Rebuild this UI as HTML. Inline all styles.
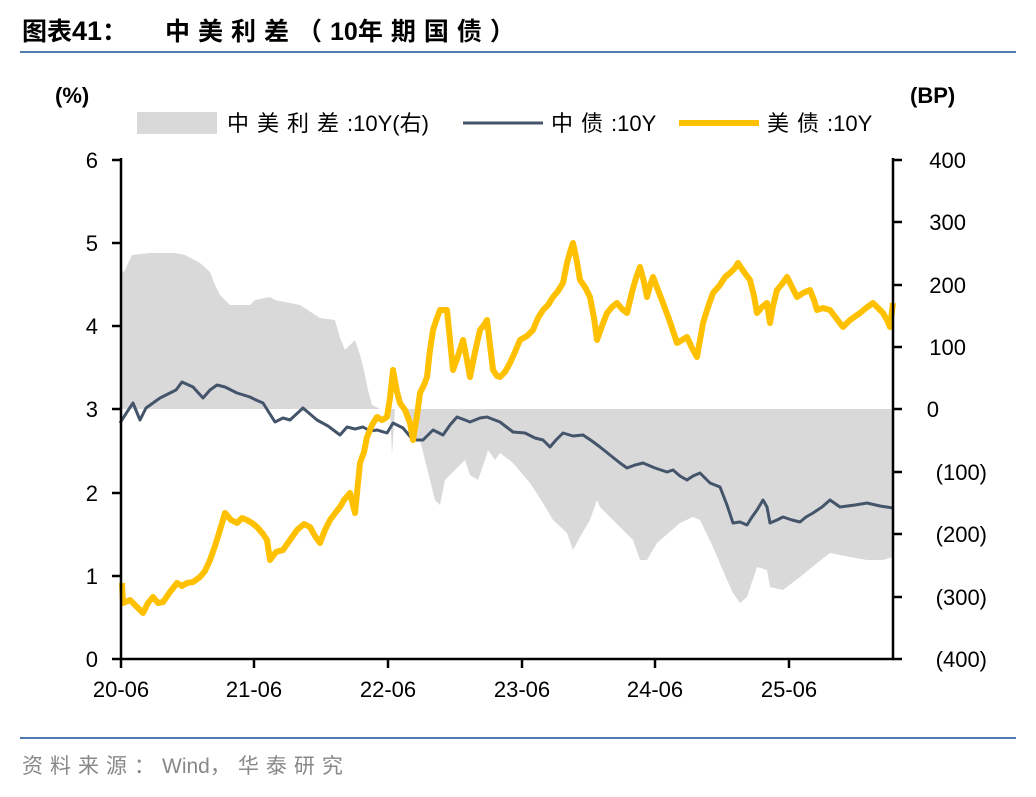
<!DOCTYPE html>
<html><head><meta charset="utf-8"><style>
body{margin:0;background:#fff;width:1036px;height:792px;overflow:hidden}
svg text{font-family:"Liberation Sans","Noto Sans CJK SC",sans-serif}
</style></head><body>
<svg width="1036" height="792" viewBox="0 0 1036 792" xmlns="http://www.w3.org/2000/svg">
<text x="22" y="40" font-size="25" font-weight="bold" fill="#000">图表<tspan font-size="27">41</tspan>：</text>
<text x="165" y="40" font-size="25" font-weight="bold" fill="#000"><tspan letter-spacing="8">中美利差（</tspan>10<tspan letter-spacing="8">年期国债）</tspan></text>
<line x1="20" y1="52" x2="1016" y2="52" stroke="#4f7bb0" stroke-width="2"/>
<line x1="20" y1="738" x2="1016" y2="738" stroke="#4f7bb0" stroke-width="2"/>
<text x="22" y="773" font-size="21" fill="#888"><tspan letter-spacing="7">资料来源：</tspan>Wind<tspan letter-spacing="7">，华泰研究</tspan></text>

<text x="55" y="103" font-size="22" font-weight="bold">(%)</text>
<text x="910" y="103" font-size="22" font-weight="bold">(BP)</text>
<rect x="137" y="112" width="80" height="22" fill="#d9d9d9"/>
<text x="227" y="131" font-size="22"><tspan letter-spacing="8">中美利差</tspan>:10Y(右)</text>
<line x1="463" y1="123" x2="543" y2="123" stroke="#44546a" stroke-width="3"/>
<text x="551" y="131" font-size="22"><tspan letter-spacing="8">中债</tspan>:10Y</text>
<line x1="679" y1="123" x2="759" y2="123" stroke="#ffc000" stroke-width="6"/>
<text x="767" y="131" font-size="22"><tspan letter-spacing="8">美债</tspan>:10Y</text>

<polygon fill="#d9d9d9" points="121,409 121,270 124,272 132,255 150,253 175,253 185,255 200,263 210,272 215,285 220,295 230,305 250,305 255,300 270,297 275,300 300,305 320,318 335,320 340,338 345,350 355,340 360,355 365,375 368,390 372,405 380,409 390,409 392,455 395,409 405,409 410,440 420,440 425,460 430,480 435,500 440,505 445,480 455,470 465,460 470,475 478,480 485,460 488,450 495,460 500,453 513,463 530,483 543,503 553,520 567,533 573,550 580,537 590,520 597,500 600,507 613,520 633,540 640,560 647,560 657,543 680,523 693,517 700,520 713,547 727,580 733,593 740,603 747,597 757,567 767,570 770,587 783,590 800,577 817,563 830,553 850,557 867,560 883,560 893,557 893,409"/>

<polyline fill="none" stroke="#44546a" stroke-width="3" stroke-linejoin="round" points="120,423 127,412 133,403 140,420 146,408 153,403 160,398 170,393 176,390 182,382 193,387 203,398 210,390 217,385 225,387 237,393 250,397 256,400 263,403 275,422 283,418 290,420 303,408 310,414 317,420 328,426 340,435 347,427 355,429 363,427 370,431 377,430 387,433 393,423 403,428 413,440 423,440 433,430 443,435 450,425 457,417 465,420 470,422 480,418 487,417 500,422 513,432 525,433 535,438 543,440 550,447 556,440 563,433 573,436 583,435 592,441 600,447 610,455 620,463 627,468 635,465 643,463 655,468 667,472 673,470 680,476 687,480 693,476 700,473 710,483 720,487 727,505 733,523 740,522 747,525 752,517 757,510 763,500 767,507 770,523 777,520 783,517 792,520 800,522 806,517 813,513 822,507 830,500 840,507 855,505 867,503 880,506 893,508"/>

<polyline fill="none" stroke="#ffc000" stroke-width="6" stroke-linejoin="round" points="122,583 123,603 130,600 136,606 143,613 148,603 153,597 158,603 163,602 170,592 177,583 182,586 187,583 193,582 200,577 205,571 210,560 215,546 220,530 225,513 231,520 237,523 242,518 247,520 252,523 257,527 263,534 267,540 270,560 276,552 283,550 290,540 297,530 304,524 310,527 315,536 320,543 325,530 330,520 336,512 340,507 344,500 350,493 355,513 360,463 364,452 367,437 372,425 377,417 382,420 387,417 390,398 393,370 397,392 400,403 405,410 410,423 413,440 417,416 420,393 424,385 427,377 430,350 433,330 437,318 440,310 447,310 450,340 453,370 458,356 463,340 467,360 470,377 475,352 480,330 484,325 487,320 490,345 493,370 497,376 500,377 505,372 510,363 515,352 520,340 527,336 533,330 538,318 543,310 548,305 553,297 558,291 563,283 567,263 570,252 573,243 577,262 580,280 585,287 590,297 594,318 597,340 602,326 607,313 612,307 617,303 622,309 627,313 632,292 636,278 640,267 644,282 647,297 650,286 653,277 658,290 663,303 670,322 677,343 682,340 687,337 692,348 697,357 700,340 703,323 708,307 713,293 720,285 725,277 730,273 735,268 738,263 744,272 750,280 754,296 757,313 762,307 767,303 770,323 773,306 777,290 782,284 787,277 792,287 797,297 803,293 810,290 814,300 817,310 823,308 830,310 836,318 843,327 850,320 860,313 866,308 873,303 878,308 883,313 887,320 890,327 893,303"/>

<g stroke="#000" stroke-width="2.5">
<line x1="121" y1="158" x2="121" y2="660"/>
<line x1="893" y1="158" x2="893" y2="660"/>
<line x1="120" y1="659" x2="894" y2="659"/>
<line x1="112" y1="160" x2="121" y2="160"/><line x1="112" y1="243" x2="121" y2="243"/><line x1="112" y1="326" x2="121" y2="326"/><line x1="112" y1="409" x2="121" y2="409"/><line x1="112" y1="493" x2="121" y2="493"/><line x1="112" y1="576" x2="121" y2="576"/><line x1="112" y1="659" x2="121" y2="659"/>
<line x1="893" y1="160" x2="902" y2="160"/><line x1="893" y1="222" x2="902" y2="222"/><line x1="893" y1="285" x2="902" y2="285"/><line x1="893" y1="347" x2="902" y2="347"/><line x1="893" y1="409" x2="902" y2="409"/><line x1="893" y1="472" x2="902" y2="472"/><line x1="893" y1="534" x2="902" y2="534"/><line x1="893" y1="597" x2="902" y2="597"/><line x1="893" y1="659" x2="902" y2="659"/>
<line x1="121" y1="659" x2="121" y2="668"/><line x1="254" y1="659" x2="254" y2="668"/><line x1="388" y1="659" x2="388" y2="668"/><line x1="522" y1="659" x2="522" y2="668"/><line x1="655" y1="659" x2="655" y2="668"/><line x1="789" y1="659" x2="789" y2="668"/>
</g>
<g font-size="22" text-anchor="end">
<text x="98" y="168">6</text><text x="98" y="251">5</text><text x="98" y="334">4</text><text x="98" y="417">3</text><text x="98" y="501">2</text><text x="98" y="584">1</text><text x="98" y="667">0</text>
</g>
<g font-size="22" text-anchor="end">
<text x="966" y="168">400</text><text x="966" y="230">300</text><text x="966" y="293">200</text><text x="966" y="355">100</text><text x="939" y="417">0</text><text x="987" y="480">(100)</text><text x="987" y="542">(200)</text><text x="987" y="605">(300)</text><text x="987" y="667">(400)</text>
</g>
<g font-size="22" text-anchor="middle">
<text x="121" y="697">20-06</text><text x="254" y="697">21-06</text><text x="388" y="697">22-06</text><text x="522" y="697">23-06</text><text x="655" y="697">24-06</text><text x="789" y="697">25-06</text>
</g>
</svg>
</body></html>
